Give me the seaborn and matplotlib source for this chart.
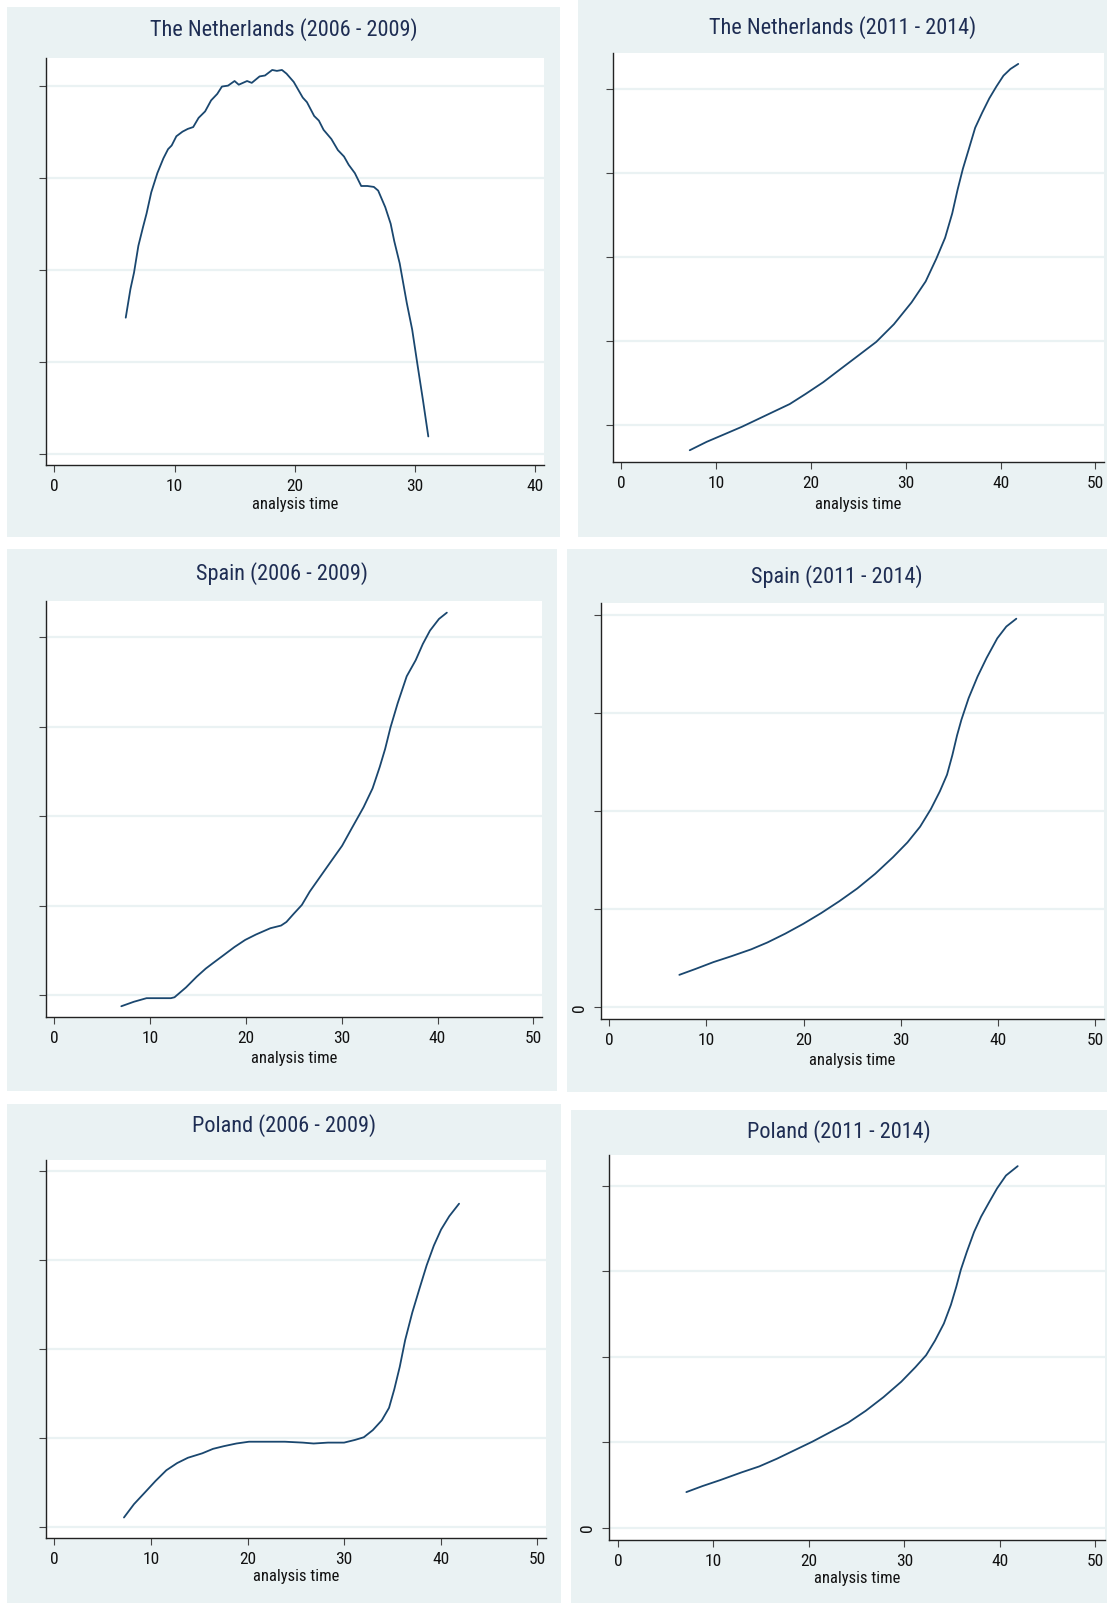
import numpy as np
import pandas as pd
import matplotlib
matplotlib.use("Agg")
import matplotlib.pyplot as plt
from matplotlib.patches import Rectangle
import seaborn as sns

sns.set_theme(style="white")
plt.rcParams["font.family"] = ["Roboto Condensed", "Archivo Narrow", "Liberation Sans", "DejaVu Sans"]

W, H = 1107, 1603
BG = "#EAF2F3"
NAVY = "#1A476F"
TITLE_C = "#1E2D53"
GRID_C = "#EAF2F3"

# ---- data: smoothed hazard estimates by analysis time ----
nl_0609_t = [5.94, 6.33, 6.63, 6.99, 7.37, 7.67, 8.06, 8.57, 9.07, 9.46, 9.76, 10.15, 10.66,
             11.1, 11.55, 12.0, 12.54, 13.04, 13.55, 13.94, 14.45, 14.99, 15.34, 16.03, 16.42,
             17.07, 17.52, 18.12, 18.51, 18.93, 19.31, 19.91, 20.66, 21.01, 21.61, 22.0, 22.39,
             23.04, 23.58, 24.09, 24.48, 24.99, 25.52, 26.03, 26.57, 26.93, 27.52, 27.97, 28.27,
             28.72, 29.31, 29.76, 30.21, 30.66, 31.1]
nl_0609_h = [1.48, 1.79, 1.97, 2.26, 2.46, 2.61, 2.84, 3.05, 3.21, 3.31, 3.35, 3.45, 3.50,
             3.53, 3.55, 3.65, 3.72, 3.84, 3.91, 3.99, 4.00, 4.05, 4.01, 4.05, 4.03,
             4.10, 4.11, 4.17, 4.16, 4.17, 4.13, 4.04, 3.87, 3.82, 3.67, 3.62, 3.52,
             3.42, 3.30, 3.23, 3.14, 3.05, 2.91, 2.91, 2.90, 2.86, 2.68, 2.50, 2.31,
             2.07, 1.64, 1.35, 0.96, 0.58, 0.19]

nl_1114_t = [7.23, 9.01, 10.88, 12.74, 14.23, 16.09, 17.77, 19.44, 21.3, 23.16, 25.03, 26.89,
             28.75, 30.61, 32.1, 33.22, 34.15, 34.9, 35.46, 36.02, 36.58, 37.32, 38.06, 38.81,
             39.55, 40.3, 41.04, 41.86]
nl_1114_h = [-0.30, -0.20, -0.11, -0.02, 0.06, 0.16, 0.25, 0.37, 0.51, 0.67, 0.83, 0.99,
             1.20, 1.46, 1.71, 1.98, 2.23, 2.52, 2.80, 3.05, 3.26, 3.54, 3.72, 3.89,
             4.03, 4.16, 4.24, 4.30]

es_0609_t = [7.0, 8.31, 9.63, 10.94, 12.17, 12.55, 13.75, 14.87, 15.81, 16.55, 17.68, 18.8,
             19.93, 21.05, 22.55, 23.67, 24.23, 24.98, 25.84, 26.67, 27.79, 28.91, 30.04, 30.97,
             32.28, 33.22, 33.97, 34.53, 35.09, 35.84, 36.78, 37.72, 38.46, 39.21, 40.15, 40.97]
es_0609_h = [-0.12, -0.07, -0.03, -0.03, -0.03, -0.02, 0.09, 0.21, 0.30, 0.36, 0.45, 0.54,
             0.62, 0.68, 0.75, 0.78, 0.82, 0.91, 1.01, 1.16, 1.33, 1.50, 1.67, 1.85,
             2.10, 2.31, 2.55, 2.75, 2.99, 3.26, 3.56, 3.74, 3.92, 4.07, 4.20, 4.27]

es_1114_t = [7.21, 8.87, 10.72, 12.57, 14.6, 16.27, 18.11, 19.96, 21.81, 23.66, 25.51, 27.36,
             29.2, 30.68, 31.98, 33.09, 34.01, 34.75, 35.3, 35.78, 36.23, 36.97, 37.89, 38.82,
             39.92, 40.85, 41.88]
es_1114_h = [0.33, 0.39, 0.46, 0.52, 0.59, 0.66, 0.75, 0.85, 0.96, 1.08, 1.21, 1.36,
             1.53, 1.68, 1.84, 2.02, 2.20, 2.37, 2.57, 2.77, 2.93, 3.15, 3.37, 3.56,
             3.76, 3.88, 3.96]

pl_0609_t = [7.21, 8.25, 9.37, 10.48, 11.6, 12.71, 13.83, 15.32, 16.43, 17.55, 18.85, 20.15,
             22.01, 23.87, 25.72, 26.84, 28.33, 30.0, 31.12, 32.04, 32.97, 33.9, 34.65, 35.2,
             35.76, 36.32, 37.06, 37.81, 38.55, 39.29, 40.04, 40.89, 41.9]
pl_0609_h = [0.11, 0.26, 0.39, 0.52, 0.64, 0.72, 0.78, 0.83, 0.88, 0.91, 0.94, 0.96,
             0.96, 0.96, 0.95, 0.94, 0.95, 0.95, 0.98, 1.01, 1.09, 1.20, 1.34, 1.55,
             1.80, 2.10, 2.41, 2.68, 2.94, 3.16, 3.34, 3.49, 3.63]

pl_1114_t = [7.17, 8.85, 10.71, 12.94, 14.8, 16.65, 18.51, 20.37, 22.23, 24.09, 25.95, 27.81,
             29.67, 31.15, 32.27, 33.2, 34.13, 34.87, 35.43, 35.91, 36.54, 37.29, 38.03, 38.88,
             39.7, 40.63, 41.86]
pl_1114_h = [0.42, 0.49, 0.56, 0.65, 0.72, 0.81, 0.91, 1.01, 1.12, 1.23, 1.37, 1.53,
             1.71, 1.88, 2.02, 2.19, 2.39, 2.61, 2.82, 3.02, 3.23, 3.46, 3.64, 3.81,
             3.97, 4.12, 4.23]

titles = ["The Netherlands (2006 - 2009)", "The Netherlands (2011 - 2014)",
          "Spain (2006 - 2009)", "Spain (2011 - 2014)",
          "Poland (2006 - 2009)", "Poland (2011 - 2014)"]
series = [(nl_0609_t, nl_0609_h), (nl_1114_t, nl_1114_h),
          (es_0609_t, es_0609_h), (es_1114_t, es_1114_h),
          (pl_0609_t, pl_0609_h), (pl_1114_t, pl_1114_h)]
x_ticks = [[0, 10, 20, 30, 40]] + [[0, 10, 20, 30, 40, 50]] * 5
y_ticks = [0, 1, 2, 3, 4]
show_zero = [False, False, False, True, False, True]

# ---- layout (pixel boxes) ----
# panel background: (x0, y0, x1, y1); plot area: (x0, y0, x1, y1)
panels = [
    ((7, 7, 560, 537), (46, 58, 544, 465), (-0.69, 40.72), (-0.12, 4.30), 30, 504),
    ((578, 0, 1107, 537), (613, 53, 1104, 462), (-0.86, 50.9), (-0.44, 4.43), 28, 504),
    ((7, 549, 557, 1091), (46, 601, 542, 1017), (-0.86, 50.9), (-0.24, 4.40), 574, 1058),
    ((567, 549, 1107, 1092), (601, 603, 1104, 1019), (-0.85, 50.9), (-0.12, 4.12), 577, 1060),
    ((7, 1104, 561, 1603), (46, 1160, 546, 1538), (-0.86, 50.9), (-0.12, 4.12), 1126, 1576),
    ((571, 1110, 1107, 1603), (609, 1155, 1105, 1540), (-0.93, 51.0), (-0.14, 4.36), 1132, 1578),
]

fig = plt.figure(figsize=(W / 100, H / 100), dpi=100, facecolor="white")


def fx(px):
    return px / W


def fy(py):
    return 1 - py / H


for i, (bg, box, xl, yl, ty, ly) in enumerate(panels):
    fig.patches.append(Rectangle((fx(bg[0]), fy(bg[3])), fx(bg[2] - bg[0]), (bg[3] - bg[1]) / H,
                                 transform=fig.transFigure, facecolor=BG, edgecolor="none",
                                 zorder=-10))
    ax = fig.add_axes([fx(box[0]), fy(box[3]), fx(box[2] - box[0]), (box[3] - box[1]) / H])
    ax.set_zorder(5)
    ax.set_facecolor("white")
    t, h = series[i]
    df = pd.DataFrame({"analysis time": t, "hazard": h})
    sns.lineplot(data=df, x="analysis time", y="hazard", ax=ax, color=NAVY, lw=1.3,
                 estimator=None, sort=False)
    ax.set_xlim(*xl)
    ax.set_ylim(*yl)
    ax.set_xticks(x_ticks[i])
    ax.set_yticks(y_ticks)
    if show_zero[i]:
        ax.set_yticklabels(["0", "", "", "", ""], rotation=90, va="center")
    else:
        ax.set_yticklabels([])
    ax.grid(axis="y", color=GRID_C, lw=1.6)
    ax.grid(axis="x", visible=False)
    ax.set_axisbelow(True)
    for s in ["top", "right"]:
        ax.spines[s].set_visible(False)
    for s in ["left", "bottom"]:
        ax.spines[s].set_color("#222222")
        ax.spines[s].set_linewidth(1.0)
    ax.tick_params(axis="both", which="major", direction="out", length=5, width=0.8,
                   color="#444444", labelsize=12.5, labelcolor="#111111", pad=5,
                   left=True, bottom=True)
    ax.set_xlabel("")
    ax.set_ylabel("")
    # panel title and axis caption
    cx_bg = (bg[0] + bg[2]) / 2
    fig.text(fx(cx_bg), fy(ty), titles[i], ha="center", va="center", fontsize=16,
             color=TITLE_C, zorder=6)
    cx_plot = (box[0] + box[2]) / 2
    fig.text(fx(cx_plot), fy(ly), "analysis time", ha="center", va="center", fontsize=12,
             color="#111111", zorder=6)

fig.savefig("out.png", dpi=100, facecolor="white")
